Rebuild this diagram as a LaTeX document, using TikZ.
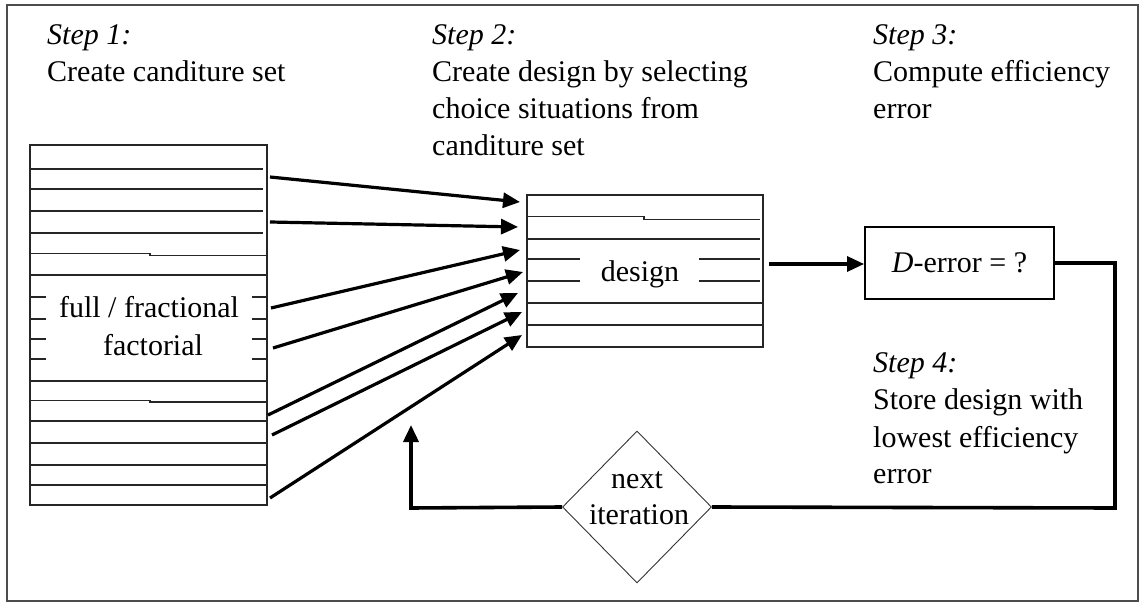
\documentclass[tikz,border=0pt]{standalone}
\usepackage{fontspec}
\setmainfont{Liberation Serif}
\usetikzlibrary{arrows.meta,shapes.geometric}
\begin{document}
\begin{tikzpicture}[x=1pt,y=-1pt,
  txt/.style={anchor=base west, inner sep=0pt, font=\fontsize{30}{37}\selectfont},
  ctxt/.style={anchor=base, inner sep=0pt, font=\fontsize{30}{37}\selectfont},
  tablebox/.style={draw=black!85, line width=1.4pt, inner sep=0pt, outer sep=0pt, anchor=north west},
  rowline/.style={draw=black!85, line width=1.3pt},
  feed/.style={line width=3.2pt, -{Triangle[length=17pt,width=15pt]}},
  loopline/.style={line width=3.6pt},
  tip/.style={-{Triangle[length=17pt,width=15pt]}},
  ]
\useasboundingbox (0,0) rectangle (1141,604);
\draw[line width=2pt, draw=black!70] (7,5) rectangle (1138,601);

% step texts
\node[txt] (s1a) at (47,45) {\textit{Step 1:}};
\node[txt] (s1b) at (47,82) {Create canditure set};
\node[txt] (s2a) at (432,45) {\textit{Step 2:}};
\node[txt] (s2b) at (432,82) {Create design by selecting};
\node[txt] (s2c) at (432,119) {choice situations from};
\node[txt] (s2d) at (432,156) {canditure set};
\node[txt] (s3a) at (873,45) {\textit{Step 3:}};
\node[txt] (s3b) at (873,82) {Compute efficiency};
\node[txt] (s3c) at (873,119) {error};
\node[txt] (s4a) at (873,372) {\textit{Step 4:}};
\node[txt] (s4b) at (873,409) {Store design with};
\node[txt] (s4c) at (873,447) {lowest efficiency};
\node[txt] (s4d) at (873,483) {error};

% candidate set table
\node[tablebox, minimum width=237pt, minimum height=360pt] (cand) at (30,145) {};
\foreach \y in {169,189,211,233} \draw[rowline] (30,\y) -- (263,\y);
\draw[rowline] (30,253.5) -- (150,253.5) -- (150,255.2) -- (267,255.2);
\foreach \y in {275,381,421,443,465,485} \draw[rowline] (30,\y) -- (267,\y);
\draw[rowline] (30,400.3) -- (150,400.3) -- (150,402) -- (267,402);
\foreach \y in {297,319,339,359} {
  \draw[rowline] (30,\y) -- (46,\y);
  \draw[rowline] (252,\y) -- (267,\y);
}
\node[ctxt] (ff1) at (149,317) {full / fractional};
\node[ctxt] (ff2) at (153,355) {factorial};

% design table
\node[tablebox, minimum width=236pt, minimum height=152pt] (des) at (527,195) {};
\draw[rowline] (527,216.7) -- (644,216.7) -- (644,219.3) -- (760,219.3);
\draw[rowline] (527,239) -- (760,239);
\foreach \y in {259,281} {
  \draw[rowline] (527,\y) -- (580,\y);
  \draw[rowline] (699,\y) -- (760,\y);
}
\foreach \y in {303,325} \draw[rowline] (527,\y) -- (763,\y);
\node[ctxt] (dtxt) at (640,281) {design};

% D-error box
\node[draw, line width=1.8pt, minimum width=189pt, minimum height=72pt, inner sep=0pt,
      font=\fontsize{30}{37}\selectfont] (derr) at (959.5,263) {\textit{D}-error = ?};

% diamond
\node[draw=black!80, diamond, line width=0.9pt, minimum width=149pt, minimum height=152pt, inner sep=0pt] (dia) at (637,507) {};
\node[ctxt] (nx1) at (637,488) {next};
\node[ctxt] (nx2) at (639,524) {iteration};

% feeding arrows
\coordinate (a1s) at (270,177); \coordinate (a1e) at (520,202);
\coordinate (a2s) at (270,222); \coordinate (a2e) at (518,227);
\coordinate (a3s) at (271,308); \coordinate (a3e) at (520,250);
\coordinate (a4s) at (273,348); \coordinate (a4e) at (523,272);
\coordinate (a5s) at (268,415); \coordinate (a5e) at (518,293);
\coordinate (a6s) at (272,435); \coordinate (a6e) at (522,312);
\coordinate (a7s) at (270,498); \coordinate (a7e) at (522,335);
\foreach \i in {1,...,7} \draw[feed] (a\i s) -- (a\i e);

% design -> D-error
\coordinate (dout) at (769,264);
\draw[feed] (dout) -- (derr.west |- dout);

% loop
\coordinate (c1) at (1115,263);
\coordinate (c2) at (1115,508);
\coordinate (c3) at (411,508);
\coordinate (c4) at (411,425);
\draw[loopline] (derr.east) -- (c1) -- (c2) -- (dia.east);
\draw[loopline, tip] (dia.west) -- (c3) -- (c4);
\end{tikzpicture}
\end{document}
